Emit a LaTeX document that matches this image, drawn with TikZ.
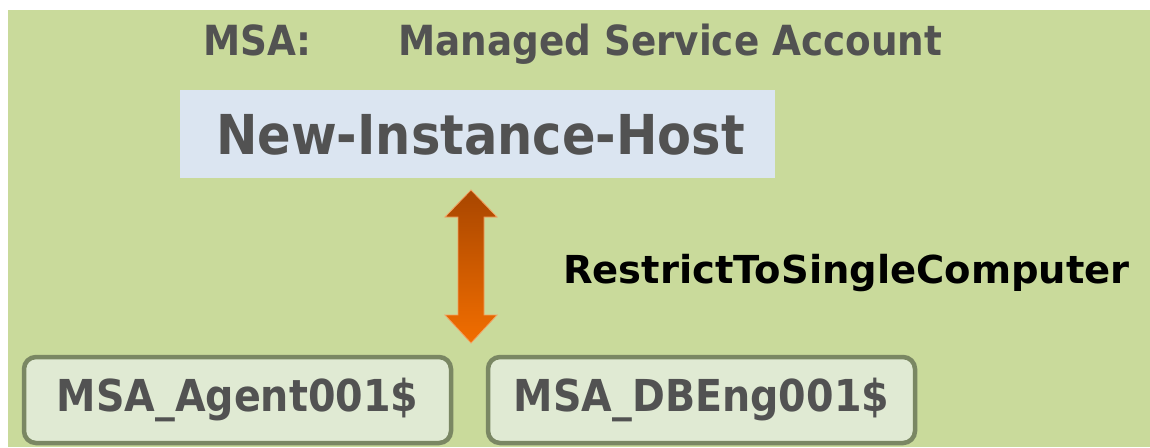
\documentclass[tikz,border=0pt]{standalone}
\usepackage{fontspec}
\usetikzlibrary{shapes.misc}
\newfontfamily\greyface[FakeStretch=0.9]{DejaVu Sans Bold}
\newfontfamily\blackface{DejaVu Sans Bold}
\definecolor{panelgreen}{HTML}{C9DA9B}
\definecolor{hostblue}{HTML}{DBE5F1}
\definecolor{textgrey}{HTML}{525252}
\definecolor{acctfill}{HTML}{E0EAD3}
\definecolor{acctedge}{HTML}{7A8763}
\definecolor{arrowtop}{HTML}{A84600}
\definecolor{arrowbot}{HTML}{F26E00}
\definecolor{arrowedge}{HTML}{F4A060}
\tikzset{
  greytext/.style={text=textgrey, inner sep=0pt, anchor=base west},
  acctbox/.style={draw=acctedge, line width=4.5pt, fill=acctfill, rounded corners=12pt,
    minimum width=427pt, minimum height=86pt, inner sep=0pt, text=textgrey,
    font=\greyface\fontsize{44}{50}\selectfont},
}
\begin{document}
\begin{tikzpicture}[x=1pt,y=-1pt]
\useasboundingbox (0,0) rectangle (1150,447);
% background panel
\fill[white] (0,0) rectangle (1150,447);
\fill[panelgreen] (8,10) rectangle (1150,447);
% title line
\node[greytext, font=\greyface\fontsize{41.5}{48}\selectfont] (abbr) at (203,55) {MSA:};
\node[greytext, font=\greyface\fontsize{41.5}{48}\selectfont] (full) at (398,55) {Managed Service Account};
% host box
\fill[hostblue] (180,90) rectangle (775,178);
\node[greytext, font=\greyface\fontsize{55}{62}\selectfont] (host) at (216,154) {New-Instance-Host};
% double arrow with vertical gradient
\coordinate (atop) at (471,190);
\coordinate (abot) at (471,343);
\shade[top color=arrowtop, bottom color=arrowbot, draw=arrowedge, line width=0.8pt]
  (atop) -- ++(26,27) -- ++(-13,0) -- ++(0,98) -- ++(13,0)
  -- (abot) -- ++(-26,-28) -- ++(13,0) -- ++(0,-98) -- ++(-13,0) -- cycle;
% relation label
\node[inner sep=0pt, anchor=base west, font=\blackface\fontsize{38.5}{44}\selectfont] (rel) at (563,283) {RestrictToSingleComputer};
% account boxes
\node[acctbox] (agent) at (237.5,400) {MSA\_Agent001\$};
\node[acctbox] (dbeng) at (701.5,400) {MSA\_DBEng001\$};
\end{tikzpicture}
\end{document}
